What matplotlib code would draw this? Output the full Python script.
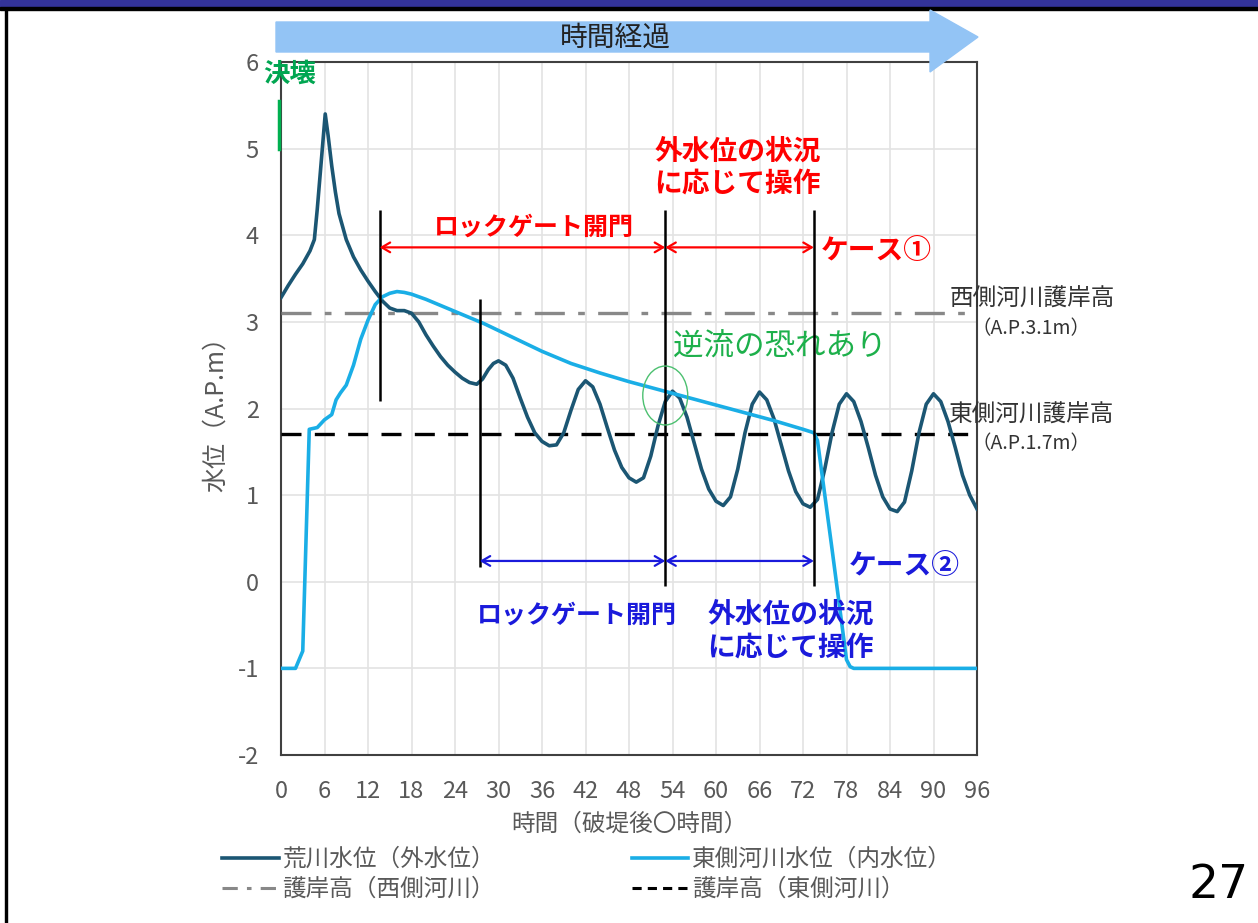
import matplotlib
matplotlib.use("Agg")
import matplotlib.pyplot as plt
from matplotlib.patches import Polygon, Rectangle, Ellipse
from matplotlib.lines import Line2D

plt.rcParams['font.family'] = ['Noto Sans CJK JP', 'DejaVu Sans']
plt.rcParams['axes.unicode_minus'] = False

# 荒川水位（外水位）
outer_t = [0, 1, 2, 3, 4, 4.6, 5, 5.5, 6.1, 6.5, 7, 7.5, 8, 9, 10, 11, 12, 13, 14,
           15, 16, 17, 18, 19, 20, 21, 22, 23, 24, 25, 26, 27, 27.8, 28.6, 29.3, 30,
           31, 32, 33, 34, 35, 36, 37, 38, 39, 40, 41, 42, 43, 44, 45, 46, 47, 48,
           49, 50, 51, 52, 53, 54, 55, 56, 57, 58, 59, 60, 61, 62, 63, 64, 65, 66,
           67, 68, 69, 70, 71, 72, 73, 74, 75, 76, 77, 78, 79, 80, 81, 82, 83, 84,
           85, 86, 87, 88, 89, 90, 91, 92, 93, 94, 95, 96]
outer_h = [3.28, 3.42, 3.55, 3.67, 3.82, 3.95, 4.3, 4.8, 5.4, 5.15, 4.8, 4.5, 4.25,
           3.95, 3.75, 3.6, 3.47, 3.35, 3.24, 3.16, 3.13, 3.13, 3.1, 3.0, 2.85, 2.72,
           2.6, 2.5, 2.42, 2.35, 2.3, 2.28, 2.34, 2.45, 2.52, 2.55,
           2.5, 2.35, 2.12, 1.9, 1.72, 1.62, 1.57, 1.58, 1.72, 1.98, 2.22, 2.32,
           2.25, 2.05, 1.78, 1.52, 1.32, 1.2, 1.15, 1.2, 1.45, 1.8, 2.08, 2.2,
           2.12, 1.9, 1.6, 1.3, 1.07, 0.93, 0.88, 0.98, 1.3, 1.72, 2.05, 2.19,
           2.1, 1.88, 1.58, 1.28, 1.04, 0.9, 0.86, 0.95, 1.3, 1.72, 2.05, 2.17,
           2.08, 1.85, 1.55, 1.23, 0.98, 0.84, 0.81, 0.92, 1.28, 1.72, 2.05, 2.17,
           2.08, 1.85, 1.55, 1.23, 1.0, 0.84]

# 東側河川水位（内水位）
inner_t = [0, 2, 3, 3.9, 5, 6, 7, 7.6, 8.2, 9, 10, 11, 12, 13, 14, 15, 16, 17, 18,
           20, 22, 24, 26, 28, 30, 32, 34, 36, 40, 44, 48, 52, 56, 60, 64, 68, 72,
           73.5, 74, 76, 78, 78.5, 79, 96]
inner_h = [-1.0, -1.0, -0.8, 1.76, 1.78, 1.87, 1.93, 2.1, 2.18, 2.27, 2.5, 2.8, 3.02,
           3.2, 3.29, 3.33, 3.35, 3.34, 3.32, 3.26, 3.19, 3.12, 3.05, 2.98, 2.9, 2.82,
           2.74, 2.66, 2.52, 2.41, 2.31, 2.22, 2.13, 2.04, 1.95, 1.86, 1.76,
           1.72, 1.63, 0.38, -0.9, -0.98, -1.0, -1.0]

west_bank = 3.1
east_bank = 1.7
gate_lines = [13.6, 27.4, 53.0, 73.5]
x_ticks = list(range(0, 97, 6))
y_ticks = list(range(-2, 7))

W, H = 1258, 923
fig = plt.figure(figsize=(W / 100, H / 100), dpi=100)


def fx(px):
    return px / W


def fy(py):
    return 1 - py / H


# page frame
fig.patches.append(Rectangle((0, fy(7)), 1, 7 / H, transform=fig.transFigure,
                             color='#333399', zorder=0))
fig.patches.append(Rectangle((0, fy(10)), 1, 3 / H, transform=fig.transFigure,
                             color='black', zorder=0))
fig.patches.append(Rectangle((fx(5), 0), 2 / W, fy(10), transform=fig.transFigure,
                             color='black', zorder=0))

ax = fig.add_axes([fx(281), fy(755), fx(977) - fx(281), fy(62) - fy(755)])

dark = '#1b5673'
light = '#1aaee6'
ax.plot(outer_t, outer_h, color=dark, lw=2.6, zorder=4)
ax.plot(inner_t, inner_h, color=light, lw=2.6, zorder=4)
ax.axhline(west_bank, color='#888888', lw=2.4, dashes=(9, 4, 2, 4), zorder=3)
ax.axhline(east_bank, color='black', lw=2.4, dashes=(6, 4), zorder=3)

ax.set_xlim(0, 96)
ax.set_ylim(-2, 6)
ax.set_xticks(x_ticks)
ax.set_yticks(y_ticks)
ax.grid(True, color='#e3e3e3', lw=1.2, zorder=0)
ax.tick_params(length=0, labelsize=17, labelcolor='#595959')
ax.tick_params(axis='x', pad=18)
ax.tick_params(axis='y', pad=16)
for s in ax.spines.values():
    s.set_color('#404040')
    s.set_linewidth(1.5)
ax.set_xlabel('時間（破堤後〇時間）', fontsize=17, color='#595959', labelpad=7)
ax.set_ylabel('水位（A.P.m）', fontsize=18, color='#595959', labelpad=6)

# gate timing lines
ax.vlines(gate_lines[0], 2.09, 4.29, color='black', lw=1.8, zorder=5)
ax.vlines(gate_lines[1], 0.17, 3.26, color='black', lw=1.8, zorder=5)
ax.vlines(gate_lines[2], -0.05, 4.29, color='black', lw=1.8, zorder=5)
ax.vlines(gate_lines[3], -0.05, 4.29, color='black', lw=1.8, zorder=5)

red = '#ff0000'
blue = '#1a1adb'
arr = dict(arrowstyle='<->,head_length=0.6,head_width=0.35', lw=1.6,
           shrinkA=0, shrinkB=0)
ax.annotate('', xy=(gate_lines[0], 3.86), xytext=(gate_lines[2], 3.86),
            arrowprops=dict(color=red, **arr), zorder=6)
ax.annotate('', xy=(gate_lines[2], 3.86), xytext=(gate_lines[3], 3.86),
            arrowprops=dict(color=red, **arr), zorder=6)
ax.annotate('', xy=(gate_lines[1], 0.24), xytext=(gate_lines[2], 0.24),
            arrowprops=dict(color=blue, **arr), zorder=6)
ax.annotate('', xy=(gate_lines[2], 0.24), xytext=(gate_lines[3], 0.24),
            arrowprops=dict(color=blue, **arr), zorder=6)

bold = dict(fontweight='bold', ha='center', va='center', zorder=7)
ax.text(63.0, 4.78, '外水位の状況\nに応じて操作', color=red, fontsize=20,
        linespacing=1.2, **bold)
ax.text(34.9, 4.09, 'ロックゲート開門', color=red, fontsize=18, **bold)
ax.text(74.4, 3.82, 'ケース①', color=red, fontsize=20, fontweight='bold',
        ha='left', va='center')
ax.text(40.8, -0.39, 'ロックゲート開門', color=blue, fontsize=18, **bold)
ax.text(70.3, -0.57, '外水位の状況\nに応じて操作', color=blue, fontsize=20,
        linespacing=1.2, **bold)
ax.text(78.3, 0.18, 'ケース②', color=blue, fontsize=20, fontweight='bold',
        ha='left', va='center')

green = '#1db04b'
ax.text(68.8, 2.71, '逆流の恐れあり', color=green, fontsize=22, ha='center', va='center')
ax.add_patch(Ellipse((53.0, 2.15), 6.2, 0.68, fill=False, ec='#4cc070', lw=1.0, zorder=6))

# 決壊 marker
ax.plot([-0.25, -0.25], [5.0, 5.55], color='#00b050', lw=2.5, clip_on=False, zorder=6)
ax.text(1.2, 5.86, '決壊', color='#00a651', fontsize=19, fontweight='bold',
        ha='center', va='center', clip_on=False, zorder=7)

# bank height labels
ax.text(103.6, 3.26, '西側河川護岸高', fontsize=17, color='#333333', ha='center',
        va='center', clip_on=False)
ax.text(103.4, 2.92, '（A.P.3.1m）', fontsize=14, color='#333333', ha='center',
        va='center', clip_on=False)
ax.text(103.6, 1.92, '東側河川護岸高', fontsize=17, color='#333333', ha='center',
        va='center', clip_on=False)
ax.text(103.4, 1.59, '（A.P.1.7m）', fontsize=14, color='#333333', ha='center',
        va='center', clip_on=False)

# time-progress banner arrow
banner = [(276, 22), (930, 22), (930, 10), (978, 37), (930, 72), (930, 52), (276, 52)]
fig.patches.append(Polygon([(fx(a), fy(b)) for a, b in banner], closed=True,
                           transform=fig.transFigure, color='#93c4f5', zorder=1))
fig.text(fx(615), fy(38), '時間経過', fontsize=20, ha='center', va='center', color='#222222')

# legend
handles = [
    Line2D([], [], color=dark, lw=2.6, label='荒川水位（外水位）'),
    Line2D([], [], color='#888888', lw=2.2, dashes=(5, 3, 1.5, 3), label='護岸高（西側河川）'),
    Line2D([], [], color=light, lw=2.6, label='東側河川水位（内水位）'),
    Line2D([], [], color='black', lw=2.2, dashes=(3, 2), label='護岸高（東側河川）'),
]
leg = fig.legend(handles=handles, loc='upper left', bbox_to_anchor=(fx(222), fy(848)),
                 ncol=2, frameon=False, fontsize=17, handlelength=2.4,
                 handletextpad=0.15, columnspacing=5.8, labelspacing=0.3,
                 borderpad=0, borderaxespad=0)
for t in leg.get_texts():
    t.set_color('#595959')

fig.text(fx(1219), fy(886), '27', fontsize=34, ha='center', va='center',
         color='black', family=['Liberation Sans Narrow', 'DejaVu Sans'])

fig.savefig('out.png', dpi=100)
